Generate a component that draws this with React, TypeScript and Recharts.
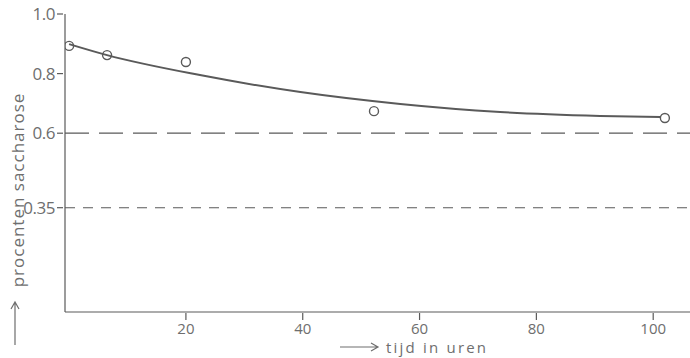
import React from "react";
import {
  ComposedChart,
  Line,
  Scatter,
  XAxis,
  YAxis,
  ReferenceLine,
} from "recharts";

const curveX = [0, 6.5, 22.4, 39.6, 56.7, 73.8, 90.9, 101.2];
const curveY = [0.899, 0.862, 0.795, 0.738, 0.698, 0.671, 0.658, 0.654];
const pointX = [0, 6.5, 20, 52.2, 102];
const pointY = [0.893, 0.862, 0.839, 0.674, 0.651];
const xTicks = [20, 40, 60, 80, 100];
const yTicks = [0.35, 0.6, 0.8, 1.0];
const limitHigh = 0.6;
const limitLow = 0.35;

const curveData = curveX.map((x, i) => ({ x, y: curveY[i] }));
const pointData = pointX.map((x, i) => ({ x, y: pointY[i] }));

const INK = "#5a5a5a";
const TXT = "#6e6e6e";
const FONT = "'Open Sans', sans-serif";

const XTick = (props: any) => {
  const { x, y, payload } = props;
  return (
    <g>
      <line x1={x} y1={y} x2={x} y2={y - 7} stroke={INK} strokeWidth={1.2} />
      <text x={x} y={y + 14} textAnchor="middle" fill={TXT} fontSize={15} fontFamily={FONT}>
        {payload.value}
      </text>
    </g>
  );
};

const YTick = (props: any) => {
  const { x, y, payload } = props;
  const v = payload.value;
  const label = v === 1 ? "1.0" : String(v);
  return (
    <g>
      <line x1={x} y1={y} x2={x + 6} y2={y} stroke={INK} strokeWidth={1.2} />
      <text x={x - 2} y={y + 6} textAnchor="end" fill={TXT} fontSize={17} fontFamily={FONT} letterSpacing={-0.5}>
        {label}
      </text>
    </g>
  );
};

const YLabel = () => (
  <g>
    <path d="M15 345 L15 302 M11 309 L15 302 L19 309" stroke={TXT} strokeWidth={1.2} fill="none" />
    <text
      transform="translate(24, 190) rotate(-90)"
      textAnchor="middle"
      fill={TXT}
      fontSize={17}
      fontFamily={FONT}
      letterSpacing={1}
    >
      {"procenten  saccharose"}
    </text>
  </g>
);

const XLabel = () => (
  <g>
    <path d="M340 347 L378 347 M371 343 L378 347 L371 351" stroke={TXT} strokeWidth={1.2} fill="none" />
    <text x={386} y={353} textAnchor="start" fill={TXT} fontSize={15} fontFamily={FONT} letterSpacing={2.2}>
      {"tijd in uren"}
    </text>
  </g>
);

export default function App() {
  return (
    <div style={{ position: "absolute", left: 0, top: 0, width: 690, height: 358, background: "#fff" }}>
      <ComposedChart width={690} height={358} margin={{ top: 14, right: 0, bottom: 0, left: 0 }}>
        <XAxis
          dataKey="x"
          type="number"
          domain={[-0.7, 106.3]}
          ticks={xTicks}
          allowDataOverflow
          axisLine={{ stroke: INK, strokeWidth: 1.2 }}
          tickLine={false}
          tick={<XTick />}
          height={46}
          label={<XLabel />}
        />
        <YAxis
          dataKey="y"
          type="number"
          domain={[0, 1.0]}
          ticks={yTicks}
          allowDataOverflow
          axisLine={{ stroke: INK, strokeWidth: 1.2 }}
          tickLine={false}
          tick={<YTick />}
          width={65}
          label={<YLabel />}
        />
        <ReferenceLine y={limitHigh} stroke={INK} strokeWidth={1.3} strokeDasharray="24 10" />
        <ReferenceLine y={limitLow} stroke={INK} strokeWidth={1.1} strokeDasharray="10 8" />
        <Line
          data={curveData}
          dataKey="y"
          type="monotone"
          stroke={INK}
          strokeWidth={2}
          dot={false}
          isAnimationActive={false}
        />
        <Scatter
          data={pointData}
          dataKey="y"
          fill="#fff"
          stroke={INK}
          strokeWidth={1.4}
          shape={(p: any) => <circle cx={p.cx} cy={p.cy} r={4.5} fill="none" stroke={INK} strokeWidth={1.4} />}
          isAnimationActive={false}
        />
      </ComposedChart>
    </div>
  );
}
